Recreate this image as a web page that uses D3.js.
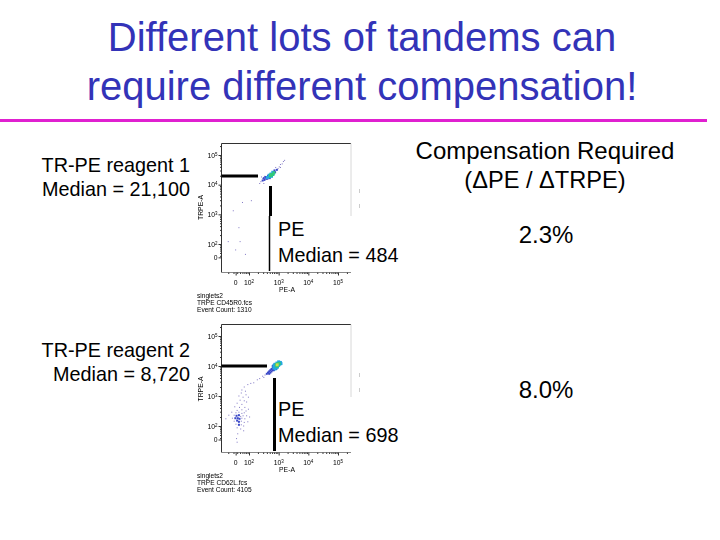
<!DOCTYPE html>
<html><head><meta charset="utf-8"><script src="https://cdnjs.cloudflare.com/ajax/libs/d3/7.8.5/d3.min.js"></script>
<style>html,body{margin:0;background:#fff}svg{display:block}text{font-family:"Liberation Sans",Arial,sans-serif;fill:#000}</style></head>
<body><svg id="c" width="720" height="540"></svg>
<script>
const titleLines=["Different lots of tandems can","require different compensation!"];
const decadeTicks=[2,3,4,5];
const zeroTick=1.55;
const levelColors=["#8078c4","#3a48c8","#22a8e0","#30c878","#c8dc50"];
// [log10 PE, log10 TRPE, density level]
const pointsTop=[[2.5,4.04,0],[2.36,4.04,0],[2.4,4.1,0],[2.46,4.2,0],[2.42,4.26,0],[2.52,4.28,0],[2.46,4.14,1],[2.52,4.16,1],[2.5,4.22,1],[2.58,4.2,1],[2.56,4.26,1],[2.62,4.2,1],[2.64,4.3,1],[2.7,4.22,1],[2.62,4.24,2],[2.68,4.26,2],[2.68,4.32,2],[2.76,4.28,2],[2.74,4.36,2],[2.82,4.36,2],[2.8,4.42,2],[2.88,4.42,1],[2.86,4.48,1],[2.94,4.5,1],[2.72,4.3,3],[2.76,4.32,3],[2.8,4.34,3],[2.74,4.34,3],[2.84,4.4,3],[2.98,4.54,0],[3.02,4.6,0],[3.06,4.58,0],[3.06,4.68,0],[3.12,4.7,0],[3.16,4.78,0],[3.2,4.82,0],[2.9,4.58,0],[1.78,3.4,0],[2.08,3.46,0],[1.47,3.12,0],[1.66,2.55,0],[1.7,2.08,0],[1.3,2.08,0],[1.55,1.8,0],[1.88,1.65,0]];
const pointsBottom=[[2.6,3.74,1],[2.64,3.78,1],[2.68,3.74,1],[2.68,3.82,1],[2.72,3.78,1],[2.72,3.86,1],[2.76,3.82,1],[2.76,3.9,1],[2.8,3.86,1],[2.8,3.94,1],[2.84,3.86,1],[2.8,4.0,1],[2.86,4.06,1],[2.92,3.9,1],[2.84,3.94,2],[2.88,3.9,2],[2.88,3.98,2],[2.84,4.02,2],[2.92,3.94,2],[2.96,3.96,2],[3.0,4.02,2],[3.04,4.06,2],[3.06,4.12,2],[3.0,4.14,2],[2.94,4.1,2],[2.88,4.06,2],[3.08,4.08,2],[2.92,4.0,3],[2.96,4.0,3],[2.92,4.05,3],[2.98,4.08,3],[3.02,4.08,3],[2.95,4.04,4],[2.54,3.7,0],[2.46,3.66,0],[2.5,3.62,0],[2.36,3.58,0],[2.28,3.54,0],[2.16,3.44,0],[2.06,3.42,0],[1.96,3.38,0],[1.84,3.3,0],[1.76,3.2,0],[1.88,3.16,0],[1.74,3.1,0],[1.9,3.04,0],[1.66,3.0,0],[1.8,2.96,0],[1.98,2.96,0],[1.7,2.86,0],[1.84,2.84,0],[1.92,2.8,0],[1.6,2.76,0],[1.76,2.72,0],[1.52,2.64,0],[1.68,2.62,0],[1.86,2.62,0],[1.98,2.56,0],[1.6,2.52,0],[1.76,2.54,0],[1.9,2.5,0],[1.42,2.46,0],[1.56,2.44,0],[1.66,2.46,0],[1.76,2.42,0],[1.84,2.44,0],[1.32,2.36,0],[1.5,2.36,0],[1.58,2.34,1],[1.66,2.36,1],[1.72,2.32,0],[1.8,2.34,0],[1.92,2.34,0],[2.02,2.3,0],[1.44,2.26,0],[1.54,2.26,1],[1.62,2.26,1],[1.68,2.24,1],[1.76,2.26,0],[1.86,2.24,0],[1.22,2.24,0],[1.5,2.16,0],[1.6,2.18,1],[1.66,2.14,1],[1.74,2.16,0],[1.84,2.12,0],[1.96,2.14,0],[1.56,2.06,0],[1.66,2.04,1],[1.74,2.04,0],[1.82,2.0,0],[1.6,1.94,0],[1.72,1.9,0],[1.82,1.84,0],[1.62,1.74,0],[1.58,1.58,0],[1.6,1.46,0]];
const statsTop=["singlets2","TRPE CD45R0.fcs","Event Count: 1310"];
const statsBottom=["singlets2","TRPE CD62L.fcs","Event Count: 4105"];

const svg=d3.select("#c");
const defs=svg.append("defs");
defs.append("filter").attr("id","soft").attr("x","-5%").attr("y","-5%").attr("width","110%").attr("height","110%").append("feGaussianBlur").attr("stdDeviation",0.4);
svg.append("g").selectAll("text").data(titleLines).join("text")
 .attr("x",362).attr("y",(d,i)=>51+i*49).attr("text-anchor","middle").attr("font-size",40).style("fill","#3333b8").text(d=>d);
svg.append("rect").attr("x",0).attr("y",119).attr("width",707).attr("height",3).attr("fill","#e020d0");

function plot(o){
 const g=svg.append("g");
 const soft=g.append("g").attr("filter","url(#soft)");
 const x=d3.scaleLinear().domain([2,5]).range([o.x2,o.x5]);
 const y=d3.scaleLinear().domain([2,5]).range([o.y2,o.y5]);
 const minors=[];for(let k=1;k<6;k++)for(let m=2;m<10;m++){minors.push(k+Math.log10(m));}
 soft.append("path").attr("d",`M${o.left},${o.top}H${o.right}`).attr("stroke","#333").attr("fill","none");
 soft.append("path").attr("d",`M${o.left},${o.top}V${o.bottom}`).attr("stroke","#333").attr("fill","none");
 soft.append("path").attr("d",`M${o.left},${o.bottom}H${o.right}`).attr("stroke","#888").attr("fill","none");
 soft.append("path").attr("d",`M${o.right},${o.top}V${o.boxY}`).attr("stroke","#d8d8d8").attr("fill","none");
 const yaxis=d3.axisLeft(y).tickSizeOuter(0).tickFormat("");
 const xaxis=d3.axisBottom(x).tickSizeOuter(0).tickFormat("");
 const pieces=[
  [`translate(${o.left},0)`,yaxis.tickValues([zeroTick,...decadeTicks]).tickSize(3)],
  [`translate(0,${o.bottom})`,xaxis.tickValues([zeroTick,...decadeTicks]).tickSize(3)]];
 pieces.forEach(p=>soft.append("g").attr("transform",p[0]).call(p[1]));
 soft.append("g").attr("transform",`translate(${o.left},0)`).call(d3.axisLeft(y).tickSizeOuter(0).tickFormat("").tickValues(minors.filter(v=>v>1.5&&v<5.4)).tickSize(1.5));
 soft.append("g").attr("transform",`translate(0,${o.bottom})`).call(d3.axisBottom(x).tickSizeOuter(0).tickFormat("").tickValues(minors.filter(v=>v>1.1&&v<5.4)).tickSize(1.5));
 soft.selectAll("path.domain").remove();
 soft.selectAll(".tick line").attr("stroke","#333");
 const sz=d=>d[2]===0?1:(d[2]===1?2:2.9);
 soft.append("g").selectAll("rect").data(o.points).join("rect")
  .attr("x",d=>x(d[0])-sz(d)/2).attr("y",d=>y(d[1])-sz(d)/2)
  .attr("width",sz).attr("height",sz)
  .attr("fill",d=>levelColors[d[2]]);
 const lab=soft.append("g").style("fill","#222");
 const sup=(sel,d)=>{sel.append("tspan").text("10");sel.append("tspan").attr("dy",-2).attr("font-size",4.5).text(d);};
 decadeTicks.forEach(d=>{
  const t=lab.append("text").attr("x",o.left-4).attr("y",y(d)+2.5).attr("text-anchor","end").attr("font-size",6.8);sup(t,d);
  const b=lab.append("text").attr("x",x(d)).attr("y",o.bottom+12).attr("text-anchor","middle").attr("font-size",6.8);sup(b,d);
 });
 lab.append("text").attr("x",o.left-4).attr("y",y(zeroTick)+2.5).attr("text-anchor","end").attr("font-size",6.8).text("0");
 lab.append("text").attr("x",x(zeroTick)).attr("y",o.bottom+12).attr("text-anchor","middle").attr("font-size",6.8).text("0");
 lab.append("text").attr("transform",`translate(203,${(o.y2+o.y5)/2+8}) rotate(-90)`).attr("text-anchor","middle").attr("font-size",6.8).text("TRPE-A");
 lab.append("text").attr("x",287).attr("y",o.bottom+19).attr("text-anchor","middle").attr("font-size",6.8).text("PE-A");
 lab.selectAll("null").data(o.stats).join("text").attr("x",197).attr("y",(d,i)=>o.statsY+i*7).attr("font-size",6.6).text(d=>d);
 g.append("rect").attr("x",o.boxX0).attr("y",o.boxY).attr("width",93).attr("height",o.boxH).attr("fill","#fff");
 g.append("path").attr("d",`M${o.left},${o.medY}H${o.medX1}`).attr("stroke","#000").attr("stroke-width",3);
 o.vert.forEach(v=>g.append("path").attr("d",`M${v[0]},${v[1]}V${v[2]}`).attr("stroke","#000").attr("stroke-width",v[3]));
 g.selectAll("null").data(o.specks).join("path").attr("d",d=>`M359.5,${d}v4`).attr("stroke","#ccc");
}
plot({x2:249,x5:338,y2:244,y5:155,left:221.5,right:351,top:143.5,bottom:272.5,points:pointsTop,stats:statsTop,statsY:298,
 medY:176,medX1:258,vert:[[270.5,186,216,3],[269.5,216,271,1.5]],boxX0:272,boxY:216,boxH:52,specks:[189,204]});
plot({x2:249,x5:338,y2:426,y5:336,left:221.5,right:351,top:324.5,bottom:452.5,points:pointsBottom,stats:statsBottom,statsY:478,
 medY:366,medX1:267,vert:[[274.5,378,451,3]],boxX0:276,boxY:397,boxH:52,specks:[373,388]});

const t=(s,x,yy,a,fs)=>svg.append("text").attr("x",x).attr("y",yy).attr("text-anchor",a).attr("font-size",fs).text(s);
t("TR-PE reagent 1",190,172,"end",19.8);
t("Median = 21,100",190,196,"end",19.8);
t("TR-PE reagent 2",190,357,"end",19.8);
t("Median = 8,720",190,381,"end",19.8);
t("PE",278,236,"start",19.8);
t("Median = 484",278,262,"start",19.8);
t("PE",278,416,"start",19.8);
t("Median = 698",278,442,"start",19.8);
t("Compensation Required",545,159,"middle",24);
t("(\u0394PE / \u0394TRPE)",545,188,"middle",23.6);
t("2.3%",546,243,"middle",24);
t("8.0%",546,398,"middle",24);
</script></body></html>
